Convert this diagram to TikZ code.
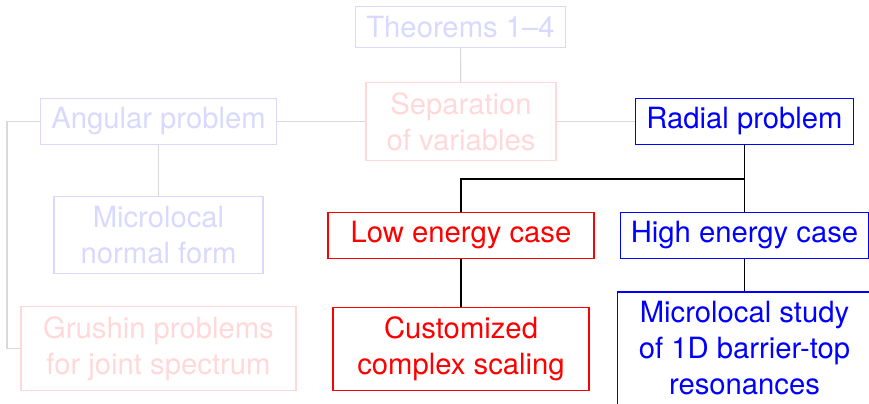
\documentclass[tikz,border=0pt]{standalone}
\usepackage{fontspec}
\setmainfont{TeX Gyre Heros}

\begin{document}
\begin{tikzpicture}[x=0.0125cm,y=-0.0125cm,
    font=\fontsize{10.4}{12.8}\selectfont,
    box/.style={draw,align=center,inner xsep=3.8pt,inner ysep=3.4pt},
    dimblue/.style={box,color=blue!15},
    dimred/.style={box,color=red!15},
    hotblue/.style={box,color=blue},
    hotred/.style={box,color=red},
    dimline/.style={black!15}]
    \useasboundingbox (0,0) rectangle (869,404);
    \clip (0,0) rectangle (869,404);
    % faded part of the tree
    \node[dimblue] (thm) at (460.5,27) {Theorems 1--4};
    \node[dimred,minimum width=2.375cm] (sep) at (461,121.5) {Separation\\of variables};
    \node[dimblue] (ang) at (158.5,121.5) {Angular problem};
    \node[dimblue,minimum width=2.6125cm] (mnf) at (158.5,235) {Microlocal\\normal form};
    \node[dimred,minimum width=3.4375cm] (gru) at (158.5,348.5) {Grushin problems\\for joint spectrum};
    % highlighted part
    \node[hotblue] (rad) at (744.5,121.5) {Radial problem};
    \node[hotred,minimum width=3.325cm] (low) at (461,235.5) {Low energy case};
    \node[hotblue] (high) at (744.5,235.5) {High energy case};
    \node[hotred,minimum width=3.2cm] (cust) at (461,349) {Customized\\complex scaling};
    \node[hotblue,minimum width=3.175cm] (study) at (744.5,348.5) {Microlocal study\\of 1D barrier-top\\resonances};
    % connectors
    \draw[dimline] (thm) -- (sep);
    \draw[dimline] (sep) -- (ang);
    \draw[dimline] (sep) -- (rad);
    \draw[dimline] (ang) -- (mnf);
    \coordinate (lft) at (7,121.5);
    \draw[dimline] (ang.west) -- (lft) |- (gru.west);
    \coordinate (split) at (744.5,179);
    \draw (rad) -- (split) -| (low);
    \draw (rad) -- (high);
    \draw (low) -- (cust);
    \draw (high) -- (study);
\end{tikzpicture}
\end{document}
